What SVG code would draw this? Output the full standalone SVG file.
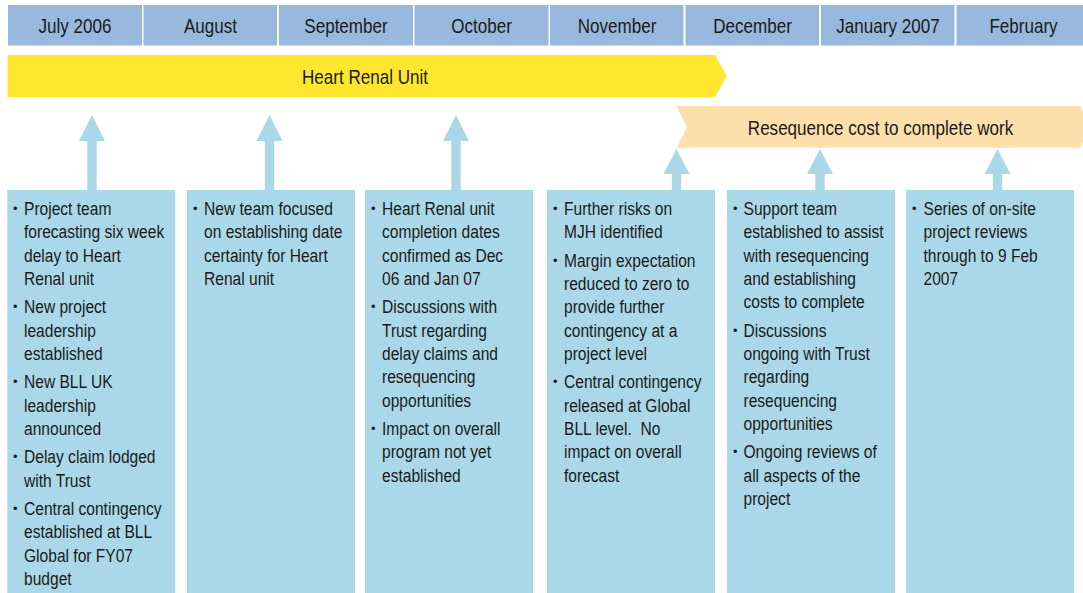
<svg xmlns="http://www.w3.org/2000/svg" width="1083" height="593" viewBox="0 0 1083 593">
  <style>
    .month { fill: #98B9DD; }
    .box { fill: #AAD8E9; }
    .up { fill: #AAD8E9; }
    .hdr { font-family: "Liberation Sans", Arial, sans-serif; font-size: 20.8px; fill: #1a1a1a; text-anchor: middle; }
    .body { font-family: "Liberation Sans", Arial, sans-serif; font-size: 19px; fill: #1a1a1a; }
    .dot { font-family: "Liberation Sans", Arial, sans-serif; font-size: 13px; fill: #1a1a1a; }
  </style>
  <defs>
    <!-- upward arrow: tip at (0,0), head 26 wide, shaft down to 75 -->
    <path id="upArrow" d="M0,0 L13,26 L4.7,26 L4.7,75 L-4.7,75 L-4.7,26 L-13,26 Z"/>
    <path id="upArrowShort" d="M0,0 L13,25 L4.7,25 L4.7,41 L-4.7,41 L-4.7,25 L-13,25 Z"/>
  </defs>
  <rect width="1083" height="593" fill="#FFFFFF"/>

  <!-- month header (labels horizontally condensed to a narrow face) -->
  <g id="months">
    <rect class="month" x="8" y="5" width="134" height="40.5"/>
    <rect class="month" x="143.5" y="5" width="133.5" height="40.5"/>
    <rect class="month" x="279" y="5" width="134" height="40.5"/>
    <rect class="month" x="414.5" y="5" width="134" height="40.5"/>
    <rect class="month" x="550" y="5" width="133.5" height="40.5"/>
    <rect class="month" x="685.5" y="5" width="133.5" height="40.5"/>
    <rect class="month" x="821" y="5" width="133.5" height="40.5"/>
    <rect class="month" x="956.5" y="5" width="134" height="40.5"/>
    <text class="hdr" transform="translate(75 33.3) scale(0.82 1)">July 2006</text>
    <text class="hdr" transform="translate(210.5 33.3) scale(0.82 1)">August</text>
    <text class="hdr" transform="translate(346 33.3) scale(0.82 1)">September</text>
    <text class="hdr" transform="translate(481.5 33.3) scale(0.82 1)">October</text>
    <text class="hdr" transform="translate(617 33.3) scale(0.82 1)">November</text>
    <text class="hdr" transform="translate(752.5 33.3) scale(0.82 1)">December</text>
    <text class="hdr" transform="translate(888 33.3) scale(0.82 1)">January 2007</text>
    <text class="hdr" transform="translate(1023.5 33.3) scale(0.82 1)">February</text>
  </g>

  <!-- phase bars -->
  <g id="phase-heart-renal">
    <path d="M7.5,55 L715,55 L726.7,76 L715,97.3 L7.5,97.3 Z" fill="#FFE72F"/>
    <text class="hdr" transform="translate(365 83.5) scale(0.82 1)">Heart Renal Unit</text>
  </g>
  <g id="phase-resequence">
    <path d="M676.7,106 L1080,106 L1092,127 L1080,147.7 L676.7,147.7 L687,127 Z" fill="#FDDFAB"/>
    <text class="hdr" transform="translate(880.5 135) scale(0.82 1)">Resequence cost to complete work</text>
  </g>

  <!-- connectors: month notes pointing up to the timeline -->
  <g id="connectors" class="up">
    <use href="#upArrow" x="92" y="115"/>
    <use href="#upArrow" x="269.5" y="115"/>
    <use href="#upArrow" x="456" y="115"/>
    <use href="#upArrowShort" x="676.5" y="149"/>
    <use href="#upArrowShort" x="820" y="149"/>
    <use href="#upArrowShort" x="997.5" y="149"/>
  </g>

  <!-- July note -->
  <g id="note-july">
    <rect class="box" x="7.3" y="190" width="168" height="403"/>
    <g class="dot"><text x="13" y="213">•</text><text x="13" y="311.3">•</text><text x="13" y="386.3">•</text><text x="13" y="461.3">•</text><text x="13" y="513">•</text></g>
    <text class="body" transform="translate(24 0) scale(0.82 1)">
      <tspan x="0" y="215">Project team</tspan>
      <tspan x="0" y="238.3">forecasting six week</tspan>
      <tspan x="0" y="261.7">delay to Heart</tspan>
      <tspan x="0" y="285">Renal unit</tspan>
      <tspan x="0" y="313.3">New project</tspan>
      <tspan x="0" y="336.7">leadership</tspan>
      <tspan x="0" y="360">established</tspan>
      <tspan x="0" y="388.3">New BLL UK</tspan>
      <tspan x="0" y="411.7">leadership</tspan>
      <tspan x="0" y="435">announced</tspan>
      <tspan x="0" y="463.3">Delay claim lodged</tspan>
      <tspan x="0" y="486.7">with Trust</tspan>
      <tspan x="0" y="515">Central contingency</tspan>
      <tspan x="0" y="538.3">established at BLL</tspan>
      <tspan x="0" y="561.7">Global for FY07</tspan>
      <tspan x="0" y="585">budget</tspan>
    </text>
  </g>

  <!-- August note -->
  <g id="note-august">
    <rect class="box" x="187" y="190" width="168" height="403"/>
    <g class="dot"><text x="193" y="213">•</text></g>
    <text class="body" transform="translate(204 0) scale(0.82 1)">
      <tspan x="0" y="215">New team focused</tspan>
      <tspan x="0" y="238.3">on establishing date</tspan>
      <tspan x="0" y="261.7">certainty for Heart</tspan>
      <tspan x="0" y="285">Renal unit</tspan>
    </text>
  </g>

  <!-- October note -->
  <g id="note-october">
    <rect class="box" x="365" y="190" width="168" height="403"/>
    <g class="dot"><text x="371" y="213">•</text><text x="371" y="311.3">•</text><text x="371" y="433">•</text></g>
    <text class="body" transform="translate(382 0) scale(0.82 1)">
      <tspan x="0" y="215">Heart Renal unit</tspan>
      <tspan x="0" y="238.3">completion dates</tspan>
      <tspan x="0" y="261.7">confirmed as Dec</tspan>
      <tspan x="0" y="285">06 and Jan 07</tspan>
      <tspan x="0" y="313.3">Discussions with</tspan>
      <tspan x="0" y="336.7">Trust regarding</tspan>
      <tspan x="0" y="360">delay claims and</tspan>
      <tspan x="0" y="383.3">resequencing</tspan>
      <tspan x="0" y="406.7">opportunities</tspan>
      <tspan x="0" y="435">Impact on overall</tspan>
      <tspan x="0" y="458.3">program not yet</tspan>
      <tspan x="0" y="481.7">established</tspan>
    </text>
  </g>

  <!-- November note -->
  <g id="note-november">
    <rect class="box" x="547" y="190" width="168" height="403"/>
    <g class="dot"><text x="553" y="213">•</text><text x="553" y="264.7">•</text><text x="553" y="386.3">•</text></g>
    <text class="body" transform="translate(564 0) scale(0.82 1)">
      <tspan x="0" y="215">Further risks on</tspan>
      <tspan x="0" y="238.3">MJH identified</tspan>
      <tspan x="0" y="266.7">Margin expectation</tspan>
      <tspan x="0" y="290">reduced to zero to</tspan>
      <tspan x="0" y="313.3">provide further</tspan>
      <tspan x="0" y="336.7">contingency at a</tspan>
      <tspan x="0" y="360">project level</tspan>
      <tspan x="0" y="388.3">Central contingency</tspan>
      <tspan x="0" y="411.7">released at Global</tspan>
      <tspan x="0" y="435" xml:space="preserve">BLL level.  No</tspan>
      <tspan x="0" y="458.3">impact on overall</tspan>
      <tspan x="0" y="481.7">forecast</tspan>
    </text>
  </g>

  <!-- December note -->
  <g id="note-december">
    <rect class="box" x="727" y="190" width="168" height="403"/>
    <g class="dot"><text x="733" y="213">•</text><text x="733" y="334.7">•</text><text x="733" y="456.3">•</text></g>
    <text class="body" transform="translate(743.5 0) scale(0.82 1)">
      <tspan x="0" y="215">Support team</tspan>
      <tspan x="0" y="238.3">established to assist</tspan>
      <tspan x="0" y="261.7">with resequencing</tspan>
      <tspan x="0" y="285">and establishing</tspan>
      <tspan x="0" y="308.3">costs to complete</tspan>
      <tspan x="0" y="336.7">Discussions</tspan>
      <tspan x="0" y="360">ongoing with Trust</tspan>
      <tspan x="0" y="383.3">regarding</tspan>
      <tspan x="0" y="406.7">resequencing</tspan>
      <tspan x="0" y="430">opportunities</tspan>
      <tspan x="0" y="458.3">Ongoing reviews of</tspan>
      <tspan x="0" y="481.7">all aspects of the</tspan>
      <tspan x="0" y="505">project</tspan>
    </text>
  </g>

  <!-- February note -->
  <g id="note-february">
    <rect class="box" x="906" y="190" width="168" height="403"/>
    <g class="dot"><text x="912" y="213">•</text></g>
    <text class="body" transform="translate(923.5 0) scale(0.82 1)">
      <tspan x="0" y="215">Series of on-site</tspan>
      <tspan x="0" y="238.3">project reviews</tspan>
      <tspan x="0" y="261.7">through to 9 Feb</tspan>
      <tspan x="0" y="285">2007</tspan>
    </text>
  </g>
</svg>
